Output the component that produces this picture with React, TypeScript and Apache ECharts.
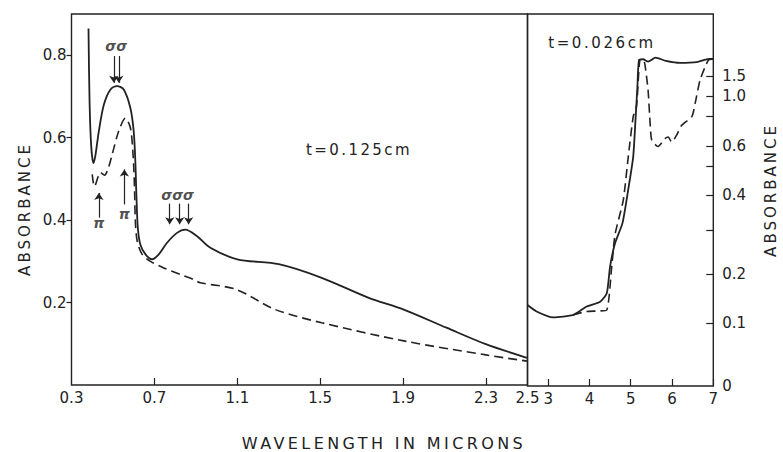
import React, { useEffect, useRef } from "react";
import * as echarts from "echarts";

// ---- data: left panel (t = 0.125 cm), wavelength in microns vs absorbance ----
const LEFT_SOLID: [number, number][] = [
  [0.382, 0.865], [0.387, 0.69], [0.395, 0.58], [0.406, 0.538], [0.416, 0.559],
  [0.432, 0.616], [0.456, 0.68], [0.488, 0.717], [0.52, 0.725], [0.552, 0.717],
  [0.584, 0.672], [0.6, 0.616], [0.608, 0.543], [0.613, 0.462], [0.62, 0.381],
  [0.632, 0.341], [0.657, 0.317], [0.689, 0.305], [0.721, 0.317], [0.761, 0.345],
  [0.809, 0.369], [0.849, 0.377], [0.906, 0.361], [0.97, 0.333],
  [1.1, 0.305], [1.3, 0.293], [1.507, 0.26], [1.731, 0.212], [1.903, 0.183],
  [2.109, 0.139], [2.299, 0.099], [2.497, 0.066],
];
const LEFT_DASHED: [number, number][] = [
  [0.4, 0.511], [0.411, 0.482], [0.44, 0.515], [0.459, 0.509], [0.48, 0.53],
  [0.496, 0.559], [0.528, 0.616], [0.56, 0.647], [0.584, 0.624], [0.597, 0.559],
  [0.604, 0.478], [0.608, 0.398], [0.617, 0.349], [0.641, 0.317], [0.681, 0.3],
  [0.745, 0.284], [0.825, 0.268], [0.889, 0.256], [0.922, 0.248], [1.094, 0.232],
  [1.283, 0.183], [1.507, 0.151], [1.903, 0.107], [2.299, 0.073], [2.497, 0.058],
];

// ---- data: right panel (t = 0.026 cm) ----
const RIGHT_SOLID: [number, number][] = [
  [2.5, 0.137], [2.72, 0.124], [3.12, 0.112], [3.61, 0.117], [3.93, 0.134],
  [4.26, 0.144], [4.42, 0.161], [4.5, 0.217], [4.62, 0.27], [4.8, 0.32],
  [4.94, 0.42], [5.06, 0.548], [5.12, 0.8], [5.16, 1.2], [5.2, 1.9],
  [5.3, 1.92], [5.42, 1.86], [5.6, 1.96], [5.85, 1.88], [6.2, 1.83],
  [6.6, 1.85], [6.9, 1.93], [7.0, 1.93],
];
const RIGHT_DASHED: [number, number][] = [
  [3.6, 0.117], [3.93, 0.124], [4.2, 0.125], [4.42, 0.127], [4.54, 0.217],
  [4.62, 0.29], [4.82, 0.386], [4.94, 0.548], [5.06, 0.8], [5.14, 0.9],
  [5.22, 1.9], [5.3, 1.93], [5.345, 1.78], [5.42, 1.155], [5.47, 0.754],
  [5.51, 0.641], [5.66, 0.6], [5.83, 0.652], [5.91, 0.663], [5.99, 0.629],
  [6.11, 0.675], [6.23, 0.74], [6.48, 0.8], [6.56, 0.93], [6.68, 1.4],
  [6.88, 1.9], [7.0, 1.93],
];

// ---- ticks / labels ----
const LEFT_X_LABELS = [0.3, 0.7, 1.1, 1.5, 1.9, 2.3, 2.5];
const LEFT_X_TICKS = [0.7, 1.1, 1.5, 1.9, 2.3];
const LEFT_Y_LABELS = [0.2, 0.4, 0.6, 0.8];
const RIGHT_X_LABELS = [3, 4, 5, 6, 7];
const RIGHT_Y_LABELS = [0, 0.1, 0.2, 0.4, 0.6, 1.0, 1.5];
const RIGHT_Y_LABEL_TEXT = ["0", "0.1", "0.2", "0.4", "0.6", "1.0", "1.5"];
const RIGHT_Y_TICKS = [0.1, 0.2, 0.3, 0.4, 0.5, 0.6, 0.8, 1.0, 1.5];

// nonlinear absorbance scale of the right panel (absorbance -> fraction of axis height)
const SCALE_A = [0, 0.1, 0.2, 0.3, 0.4, 0.5, 0.6, 0.8, 1.0, 1.5, 2.0];
const SCALE_U = [0, 0.1685, 0.301, 0.419, 0.513, 0.59, 0.644, 0.724, 0.779, 0.833, 0.887];

// ---- annotations (arrows and polarisation symbols) ----
const ARROWS: [[number, number], [number, number]][] = [
  [[0.504, 0.798], [0.504, 0.733]],
  [[0.528, 0.798], [0.528, 0.733]],
  [[0.432, 0.406], [0.432, 0.466]],
  [[0.555, 0.438], [0.555, 0.523]],
  [[0.774, 0.44], [0.774, 0.39]],
  [[0.822, 0.44], [0.822, 0.39]],
  [[0.865, 0.44], [0.865, 0.39]],
];
const SYMBOLS: [number, number, string][] = [
  [0.516, 0.822, "σσ"],
  [0.432, 0.393, "π"],
  [0.555, 0.416, "π"],
  [0.812, 0.462, "σσσ"],
];

const INK = "#222";
const FONT = "DejaVu Sans";

function toU(a: number): number {
  const n = SCALE_A.length;
  for (let i = 0; i < n - 1; i++) {
    if (a <= SCALE_A[i + 1] || i === n - 2) {
      const t = (a - SCALE_A[i]) / (SCALE_A[i + 1] - SCALE_A[i]);
      return SCALE_U[i] + t * (SCALE_U[i + 1] - SCALE_U[i]);
    }
  }
  return SCALE_U[n - 1];
}

const SPACING: Record<string, string> = {
  ABSORBANCE: "3px",
  "WAVELENGTH IN MICRONS": "3.4px",
  "t=0.125cm": "2.4px",
  "t=0.026cm": "2.6px",
};

export default function App() {
  const ref = useRef<HTMLDivElement>(null);

  useEffect(() => {
    document.body.style.margin = "0";
    const el = ref.current!;
    const chart = echarts.init(el, null, { renderer: "svg" });

    const rightYLabelU = RIGHT_Y_LABELS.map(toU);
    const labelStyle = { color: INK, fontFamily: FONT, fontSize: 15 };

    const option: any = {
      animation: false,
      backgroundColor: "#ffffff",
      grid: [
        { left: 71.5, top: 14, width: 456, height: 371, show: true, borderColor: INK, borderWidth: 1.4, backgroundColor: "transparent" },
        { left: 527.5, top: 14, width: 185.8, height: 372, show: true, borderColor: INK, borderWidth: 1.4, backgroundColor: "transparent" },
      ],
      xAxis: [
        {
          type: "value", gridIndex: 0, min: 0.3, max: 2.5,
          axisLine: { show: false }, splitLine: { show: false },
          axisTick: { show: true, inside: true, length: 7, customValues: LEFT_X_TICKS, lineStyle: { color: INK, width: 1.2 } },
          axisLabel: { ...labelStyle, margin: 5, customValues: LEFT_X_LABELS, formatter: (v: number) => v.toFixed(1) },
        },
        {
          type: "value", gridIndex: 1, min: 2.5, max: 7,
          axisLine: { show: false }, splitLine: { show: false },
          axisTick: { show: true, inside: true, length: 7, customValues: RIGHT_X_LABELS, lineStyle: { color: INK, width: 1.2 } },
          axisLabel: { ...labelStyle, margin: 5, customValues: RIGHT_X_LABELS, formatter: (v: number) => String(Math.round(v)) },
        },
      ],
      yAxis: [
        {
          type: "value", gridIndex: 0, min: 0, max: 0.9,
          axisLine: { show: false }, splitLine: { show: false },
          axisTick: { show: true, inside: false, length: 5, customValues: LEFT_Y_LABELS, lineStyle: { color: INK, width: 1.2 } },
          axisLabel: { ...labelStyle, margin: 5, customValues: LEFT_Y_LABELS, formatter: (v: number) => v.toFixed(1) },
        },
        {
          type: "value", gridIndex: 1, position: "right", min: 0, max: 1,
          axisLine: { show: false }, splitLine: { show: false },
          axisTick: { show: true, inside: true, length: 7, customValues: RIGHT_Y_TICKS.map(toU), lineStyle: { color: INK, width: 1.2 } },
          axisLabel: {
            ...labelStyle, margin: 9, customValues: rightYLabelU,
            formatter: (v: number) => {
              let best = 0;
              for (let i = 1; i < rightYLabelU.length; i++) {
                if (Math.abs(rightYLabelU[i] - v) < Math.abs(rightYLabelU[best] - v)) best = i;
              }
              return RIGHT_Y_LABEL_TEXT[best];
            },
          },
        },
      ],
      series: [
        {
          type: "line", xAxisIndex: 0, yAxisIndex: 0, data: LEFT_SOLID, showSymbol: false, smooth: 0.3,
          lineStyle: { color: INK, width: 1.8 },
          markLine: {
            silent: true, symbol: ["none", "arrow"], symbolSize: 7, animation: false,
            label: { show: false },
            lineStyle: { type: "solid", color: INK, width: 1.2 },
            data: ARROWS.map(([a, b]) => [{ coord: a }, { coord: b }]),
          },
        },
        {
          type: "line", xAxisIndex: 0, yAxisIndex: 0, data: LEFT_DASHED, showSymbol: false, smooth: 0.3,
          lineStyle: { color: INK, width: 1.6, type: [9, 5] },
        },
        {
          type: "line", xAxisIndex: 1, yAxisIndex: 1, data: RIGHT_SOLID.map(([x, a]) => [x, toU(a)]), showSymbol: false, smooth: 0.2,
          lineStyle: { color: INK, width: 1.8 },
        },
        {
          type: "line", xAxisIndex: 1, yAxisIndex: 1, data: RIGHT_DASHED.map(([x, a]) => [x, toU(a)]), showSymbol: false, smooth: 0.2,
          lineStyle: { color: INK, width: 1.6, type: [9, 5] },
        },
        {
          type: "scatter", xAxisIndex: 0, yAxisIndex: 0, data: SYMBOLS, symbolSize: 1,
          itemStyle: { color: "rgba(0,0,0,0)" }, silent: true,
          label: {
            show: true, position: "inside", color: INK, fontFamily: FONT, fontSize: 14, fontStyle: "italic", fontWeight: "bold",
            formatter: (p: any) => p.data[2],
          },
        },
      ],
      graphic: [
        { type: "text", x: 25, y: 209, rotation: Math.PI / 2, style: { text: "ABSORBANCE", fill: INK, font: `15px "${FONT}"`, align: "center", verticalAlign: "middle", textAlign: "center", textVerticalAlign: "middle" } },
        { type: "text", x: 771, y: 190, rotation: Math.PI / 2, style: { text: "ABSORBANCE", fill: INK, font: `15px "${FONT}"`, align: "center", verticalAlign: "middle", textAlign: "center", textVerticalAlign: "middle" } },
        { type: "text", x: 384, y: 443, style: { text: "WAVELENGTH IN MICRONS", fill: INK, font: `16px "${FONT}"`, align: "center", verticalAlign: "middle", textAlign: "center", textVerticalAlign: "middle" } },
        { type: "text", x: 359, y: 150, style: { text: "t=0.125cm", fill: INK, font: `15px "${FONT}"`, align: "center", verticalAlign: "middle", textAlign: "center", textVerticalAlign: "middle" } },
        { type: "text", x: 602, y: 43, style: { text: "t=0.026cm", fill: INK, font: `15px "${FONT}"`, align: "center", verticalAlign: "middle", textAlign: "center", textVerticalAlign: "middle" } },
      ],
    };

    const applySpacing = () => {
      el.querySelectorAll("text").forEach((t) => {
        const s = SPACING[(t.textContent || "").trim()];
        if (s) (t as SVGTextElement).style.letterSpacing = s;
      });
    };

    chart.setOption(option);
    applySpacing();
    chart.on("finished", applySpacing);

    return () => {
      chart.dispose();
    };
  }, []);

  return (
    <div
      ref={ref}
      style={{ position: "absolute", left: 0, top: 0, width: 783, height: 452 }}
    />
  );
}
